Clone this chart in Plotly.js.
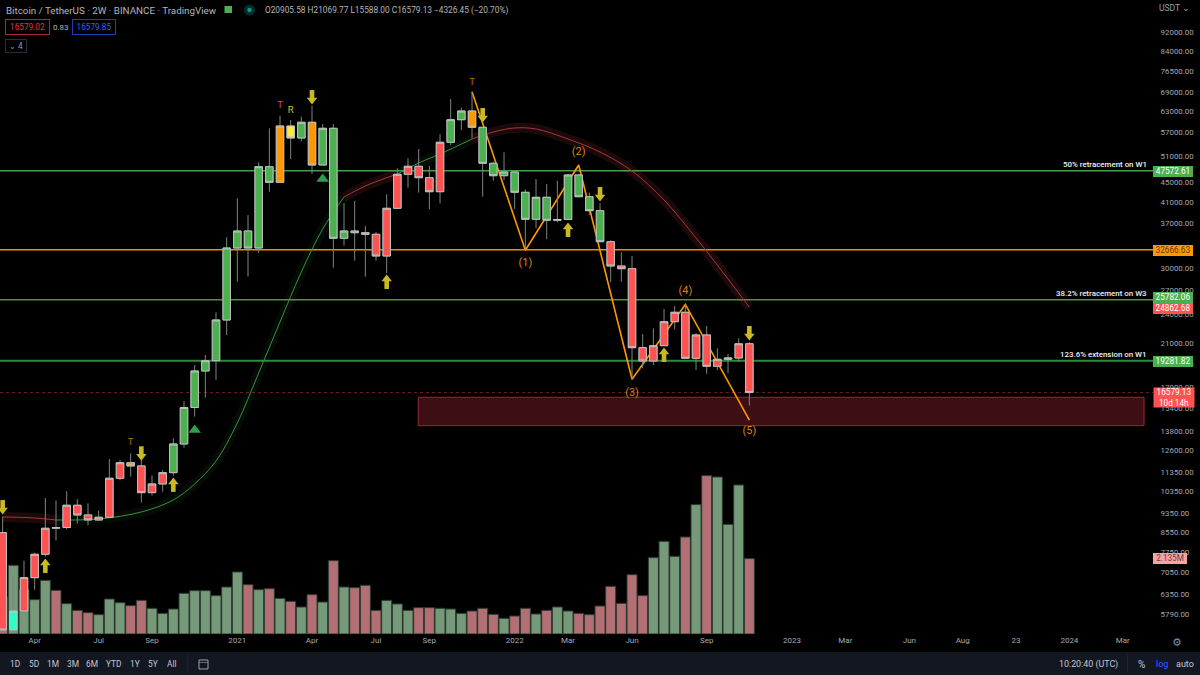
<!DOCTYPE html>
<html><head><meta charset="utf-8">
<script src="https://cdn.plot.ly/plotly-3.0.1.min.js"></script>
<style>html,body{margin:0;padding:0;background:#000;overflow:hidden}#c{width:1200px;height:675px}</style>
</head><body><div id="c"></div>
<script>
const openP=[8519,5365,5871,6878,7687,8699,8730,9704,9266,9048,9165,11032,11880,11696,10303,10737,11329,12985,15444,18369,19291,23408,32958,35731,32958,48502,45037,58853,55591,59898,48896,58214,34513,35731,35444,35175,31728,39802,46782,48595,46032,43070,54467,60642,63201,58491,49292,46472,47296,42947,37774,41938,37595,37740,46626,42058,39351,33961,30255,29869,20520,19263,20716,23220,24280,19512,21797,18784,19419,19540,20905.58];
const closeP=[5365,5871,6878,7687,8699,8730,9704,9266,9048,9165,11032,11880,11696,10303,10737,11329,12985,15444,18369,19291,23408,32958,35731,32958,48502,45037,58853,55591,59898,48896,58214,34513,35731,35444,35175,31728,39802,46782,48595,46032,43070,54467,60642,63201,58491,49292,46472,47296,42947,37774,41938,37595,37740,46626,42058,39351,33961,30255,29869,20520,19263,20716,23220,24280,19512,21797,18784,19419,19540,20905.58,16579.13];
const highP=[9191,6934,7457,7746,10046,9918,10371,9984,9796,9458,12091,12034,12423,12034,11190,11475,13341,15929,18901,19820,24280,34677,41739,38554,49527,58214,61806,60555,61512,64814,59416,59416,40759,41207,36591,35562,42541,48135,50478,52759,48664,56577,66911,64201,69276,58574,49670,51938,47589,43563,45748,44674,45381,46849,46800,42865,40759,34186,32291,31728,21870,22502,24663,25018,25137,22005,22749,20462,19915,21458,21069.77];
const lowP=[5200,5280,5816,6488,7600,8201,8657,8891,8824,9018,9148,10927,11116,9824,10157,10352,11169,12759,14783,16181,17600,21797,28081,28755,32230,43070,45037,50310,54726,46914,48896,30012,33320,31027,28755,31027,29225,39700,43896,42865,39613,40759,53772,57745,55511,42058,45381,45531,39670,32911,36193,34349,37240,37595,41938,38554,33961,28000,28081,17658,18606,18901,20716,22395,19512,18456,18109,18456,18169,19200,15588];
const candleKind="rcrrrrrrrrrrorrrggggggggggoygogggg".concat("rrrrrrrr","gg","o","gggggggggggg","rrrrrrrrrrrrrr");
const volumeM=[1.05,1.945,1.256,0.972,1.52,1.237,0.859,0.67,0.604,0.548,0.991,0.887,0.802,0.953,0.727,0.585,0.708,1.152,1.227,1.227,1.086,1.331,1.756,1.397,1.256,1.284,1.01,0.925,0.765,1.114,0.906,2.077,1.331,1.312,1.378,0.67,0.953,0.85,0.67,0.746,0.746,0.727,0.708,0.585,0.651,0.727,0.557,0.444,0.51,0.727,0.566,0.67,0.765,0.651,0.585,0.548,0.793,1.35,0.868,1.68,1.086,2.162,2.624,2.2,2.747,3.663,4.484,4.446,3.106,4.22,2.135];
const volumeKind="rggggrgrrgggrrgggggggggrgrgrgrgrgrrrgggrrgggrrrgrrgrggrrrrrrrgggrgrgggr".slice(0,71);
const maBars=[0,3,5,9,13,16,18,20,22,24,26,28,30,32,34,37,39,41,44,46,48,50,53,56,59,62,65,68,70];
const maPrice=[9178,9135,9048,9091,9399,9951,10737,11977,14348,18195,23186,29405,36073,41997,44251,46849,49363,51520,55327,57199,58297,58020,55327,52012,47520,41403,34563,28442,24862.68];
const maSpans=[[0,2,'r'],[2,13,'g'],[13,15,'r'],[15,18,'g'],[18,28,'r']];
const levelPrice=[47572.61,32666.63,25782.06,19281.82];
const levelColor=['#43a047','#f08c00','#3f9a45','#2f8a37'];
const levelWidth=[1.3,1.5,1.5,2];
const levelLabel=['50% retracement on W1','','38.2% retracement on W3','123.6% extension on W1'];
const lastPrice=16579.13, maLast=24862.68, volumeLast='2.135M';
const zoneBars=[38.96,107], zonePrice=[14165,16211];
const waveBars=[44,49,54,59,64,70];
const wavePrice=[69276,32600,48896,17658,25200,14550];
const waveNames=['(1)','(2)','(3)','(4)','(5)'];
const waveNameBars=[49,54,59,64,70];
const waveNamePrice=[30690,52012,16546,26865,13812];
const downBars=[0,13,29,45,56,70], downPrice=[9490,12250,66610,61150,42010,21700];
const upBars=[4,16,36,53,62], upPrice=[7373,10837,28430,36400,20100];
const triBars=[18,30], triPrice=[13878,45748];
const letterText=['T','T','R','T'], letterBars=[44,26,27,12], letterPrice=[72198,64814,63201,13065], letterColor=['#b86a00','#b86a00','#d8c020','#b86a00'];
const timeTickBars=[3,9,14,22,29,35,40,48,53,59,66,74,79,85,90,95,100,105];
const timeTickText=['Apr','Jul','Sep','2021','Apr','Jul','Sep','2022','Mar','Jun','Sep','2023','Mar','Jun','Aug','23','2024','Mar'];
const priceTicks=[92000,84000,76500,69000,63000,57000,51000,45000,41000,37000,30000,27000,24000,21000,19000,17000,15400,13800,12600,11350,10350,9350,8550,7750,7050,6350,5790];
const rangeButtons=['1D','5D','1M','3M','6M','YTD','1Y','5Y','All'], rangeButtonX=[15,34,53,73,92,114,135,153,172];

const idx=openP.map((_,i)=>i);
const W=1153,H=634;
const px=x=>x/W, py=y=>1-y/H;
const xR=[-0.25,107.84], yR=[3.72119,5.02984];
const fills={r:'#ff5252',g:'#4caf50',o:'#ff9800',y:'#ffeb3b',c:'#2cffc4'};
const FONT='Roboto, "Liberation Sans", sans-serif';
const traces=[];
traces.push({type:'bar',x:idx,y:volumeM,xaxis:'x',yaxis:'y',hoverinfo:'skip',
  marker:{color:volumeKind.split('').map(k=>k==='g'?'#76997a':'#b26f74'),line:{color:'#2b3a2f',width:1}}});
levelPrice.forEach((p,i)=>traces.push({type:'scatter',mode:'lines',x:xR,y:[p,p],xaxis:'x',yaxis:'y2',hoverinfo:'skip',line:{color:levelColor[i],width:levelWidth[i]}}));
traces.push({type:'scatter',mode:'lines',x:xR,y:[lastPrice,lastPrice],xaxis:'x',yaxis:'y2',hoverinfo:'skip',line:{color:'#6a1f24',width:1,dash:'dot'}});
maSpans.forEach(s=>{
  const xs=maBars.slice(s[0],s[1]+1), ys=maPrice.slice(s[0],s[1]+1);
  const band=s[2]==='g'?'rgba(76,175,80,0.07)':'rgba(255,82,82,0.11)', core=s[2]==='g'?'#3c8f42':'#a8363f';
  traces.push({type:'scatter',mode:'lines',x:xs,y:ys,xaxis:'x',yaxis:'y2',hoverinfo:'skip',line:{color:band,width:10,shape:'spline'}});
  traces.push({type:'scatter',mode:'lines',x:xs,y:ys,xaxis:'x',yaxis:'y2',hoverinfo:'skip',line:{color:core,width:1,shape:'spline'}});
});
traces.push({type:'scatter',mode:'lines',x:waveBars,y:wavePrice,xaxis:'x',yaxis:'y2',hoverinfo:'skip',line:{color:'#ff9800',width:1.6}});
const wickC='#7c8481', borderC='#bcc3bf';
traces.push({type:'candlestick',x:idx,open:openP,close:closeP,high:highP,low:lowP,xaxis:'x',yaxis:'y3',hoverinfo:'skip',whiskerwidth:0,
  increasing:{line:{color:wickC,width:1},fillcolor:'rgba(0,0,0,0)'},decreasing:{line:{color:wickC,width:1},fillcolor:'rgba(0,0,0,0)'}});
Object.keys(fills).forEach(k=>{
  const ii=idx.filter(i=>candleKind[i]===k);
  const o=ii.map(i=>openP[i]), c=ii.map(i=>closeP[i]);
  const side={line:{color:borderC,width:1},fillcolor:fills[k]};
  traces.push({type:'candlestick',x:ii,open:o,close:c,high:o.map((v,j)=>Math.max(v,c[j])),low:o.map((v,j)=>Math.min(v,c[j])),xaxis:'x',yaxis:'y3',hoverinfo:'skip',increasing:side,decreasing:side});
});
const arrowC='#c9b922';
const shaft=(xs,ys,ang)=>({type:'scatter',mode:'markers',x:xs,y:ys,xaxis:'x',yaxis:'y3',hoverinfo:'skip',cliponaxis:false,marker:{symbol:'line-ns',size:7,angle:ang,standoff:5,color:arrowC,line:{color:arrowC,width:4.6}}});
const head=(xs,ys,ang)=>({type:'scatter',mode:'markers',x:xs,y:ys,xaxis:'x',yaxis:'y3',hoverinfo:'skip',cliponaxis:false,marker:{symbol:'triangle-up',size:9,angle:ang,color:arrowC,line:{width:0}}});
traces.push(shaft(downBars,downPrice,180),head(downBars,downPrice,180));
traces.push(shaft(upBars,upPrice,0),head(upBars,upPrice,0));
traces.push({type:'scatter',mode:'markers',x:triBars,y:triPrice,marker:{symbol:'triangle-up',size:11,color:'#2f9e4f'},xaxis:'x',yaxis:'y3',hoverinfo:'skip'});
traces.push({type:'scatter',mode:'text',x:letterBars,y:letterPrice,text:letterText,textposition:'middle center',textfont:{family:FONT,size:9.5,color:letterColor},xaxis:'x',yaxis:'y3',hoverinfo:'skip'});
traces.push({type:'scatter',mode:'text',x:waveNameBars,y:waveNamePrice,text:waveNames,textposition:'middle center',textfont:{family:FONT,size:11,color:'#d9820b'},xaxis:'x',yaxis:'y3',hoverinfo:'skip'});

const ann=[];
const T=(text,x,y,o={})=>ann.push(Object.assign({text,xref:'paper',yref:'paper',x:px(x),y:py(y),showarrow:false,xanchor:'left',yanchor:'middle',borderpad:0,borderwidth:0},o,{font:Object.assign({family:FONT,size:9,color:'#b2b5be'},o.font||{})}));
T('Bitcoin / TetherUS · 2W · BINANCE · TradingView',5.5,10,{font:{size:9.8}});
T('O20905.58 H21069.77 L15588.00 C16579.13 −4326.45 (−20.70%)',265,10,{font:{size:8.3}});
const tagBox=(text,x,y,w,h,bg,col,border)=>T(text,x,y,{width:w,height:h,bgcolor:bg,align:'center',valign:'middle',bordercolor:border||bg,borderwidth:border?1:0,font:{size:8.2,color:col}});
tagBox('16579.02',5,27.5,43,14,'#000','#e8323f','#a82a36');
T('0.83',53,27.5,{font:{size:8,color:'#b2b5be'}});
tagBox('16579.85',71.5,27.5,42,14,'#000','#2962ff','#1e3fae');
tagBox('⌄ 4',5,45.5,20,12,'#000','#9598a1','#2a2e39');
T('USDT ⌄',1159,8,{font:{size:8.5,color:'#9aa0a8'}});
const tag=(t,y,h,bg,col,w)=>tagBox(t,1153,y,w||40,h,bg,col);
tag('47572.61',171.3,10.5,'#4caf50','#fff');
tag('32666.63',250.3,10.5,'#ff9800','#5a3a00');
tag('25782.06',297.5,10.5,'#4caf50','#fff');
tag('24862.68',308.8,10.5,'#ff5252','#fff');
tag('19281.82',361,10.5,'#4caf50','#fff');
ann.push({text:'16579.13<br>10d 14h',xref:'paper',yref:'paper',x:px(1153),y:py(397.3),xanchor:'left',yanchor:'middle',showarrow:false,width:40,height:19,bgcolor:'#ff5252',borderpad:0,font:{family:FONT,size:8.2,color:'#fff'},align:'center'});
tag(volumeLast,558,10.5,'#f5a3a3','#6a3c3c',34);
levelPrice.forEach((p,i)=>{ if(levelLabel[i]) ann.push({text:levelLabel[i],xref:'paper',yref:'y2',x:px(1148),y:Math.log10(p),xanchor:'right',yanchor:'bottom',yshift:1,showarrow:false,borderpad:0,font:{family:FONT,size:7.9,weight:500,color:'#f0f1f3'}}); });
rangeButtons.forEach((b,i)=>ann.push({text:b,xref:'paper',yref:'paper',x:px(rangeButtonX[i]),y:py(664),xanchor:'center',yanchor:'middle',showarrow:false,font:{family:FONT,size:8.4,color:'#c3c6ce'}}));
T('10:20:40 (UTC)',1059,664,{font:{size:8.9,color:'#c3c6ce'}});
T('%',1138,664,{font:{size:10,color:'#c3c6ce'}});
T('log',1155.5,664,{font:{size:9,color:'#2962ff'}});
T('auto',1176,664,{font:{size:9,color:'#c3c6ce'}});
ann.push({text:'⚙',xref:'paper',yref:'paper',x:px(1177),y:py(642),xanchor:'center',yanchor:'middle',showarrow:false,font:{family:'"DejaVu Sans"',size:11,color:'#8a8f98'}});

const pR=(x0,y0,x1,y1,o)=>Object.assign({type:'rect',xref:'paper',yref:'paper',x0:px(x0),x1:px(x1),y0:py(y0),y1:py(y1),line:{width:0}},o);
const shapes=[
  {type:'rect',xref:'x',yref:'y2',x0:zoneBars[0],x1:zoneBars[1],y0:zonePrice[0],y1:zonePrice[1],fillcolor:'#3d0f14',line:{color:'#9a2730',width:1},layer:'below'},
  pR(0,652,1200,675,{fillcolor:'#131722'}),
  pR(187.5,655,188.2,672,{fillcolor:'#2a2e39'}),
  pR(1127,655,1127.7,672,{fillcolor:'#2a2e39'}),
  pR(199,660,208,669,{fillcolor:'rgba(0,0,0,0)',line:{color:'#9aa0a8',width:1}}),
  pR(199,662,208,662.6,{fillcolor:'#9aa0a8'}),
  pR(224.5,6,232,13,{fillcolor:'#4caf50'}),
  {type:'circle',xref:'paper',yref:'paper',x0:px(244),x1:px(255),y0:py(4.5),y1:py(15.5),fillcolor:'#0a2b29',line:{width:0}},
  {type:'circle',xref:'paper',yref:'paper',x0:px(247.3),x1:px(251.7),y0:py(7.8),y1:py(12.2),fillcolor:'#089981',line:{width:0}}
];
const layout={width:1200,height:675,margin:{l:0,r:47,t:0,b:41,pad:0},paper_bgcolor:'#000',plot_bgcolor:'rgba(0,0,0,0)',
  showlegend:false,bargap:0.06,boxmode:'overlay',boxgap:0,dragmode:false,hovermode:false,
  font:{family:FONT,color:'#b2b5be'},
  xaxis:{range:xR,type:'linear',rangeslider:{visible:false},showgrid:false,zeroline:false,showline:false,ticks:'',tickmode:'array',tickvals:timeTickBars,ticktext:timeTickText,tickfont:{family:FONT,size:8,color:'#a5a8b0'},tickangle:0,fixedrange:true},
  yaxis:{range:[0,17.95],visible:false,fixedrange:true,showgrid:false,zeroline:false},
  yaxis2:{type:'log',range:yR,overlaying:'y',visible:false,fixedrange:true,showgrid:false,zeroline:false},
  yaxis3:{type:'log',range:yR,overlaying:'y',side:'right',anchor:'x',fixedrange:true,showgrid:false,zeroline:false,showline:false,ticks:'outside',ticklen:5,tickcolor:'rgba(0,0,0,0)',tickmode:'array',tickvals:priceTicks,ticktext:priceTicks.map(v=>v.toFixed(2)),tickfont:{family:FONT,size:7.9,color:'#a5a8b0'}},
  shapes:shapes,annotations:ann};
Plotly.newPlot('c',traces,layout,{displayModeBar:false,staticPlot:true});
</script></body></html>
